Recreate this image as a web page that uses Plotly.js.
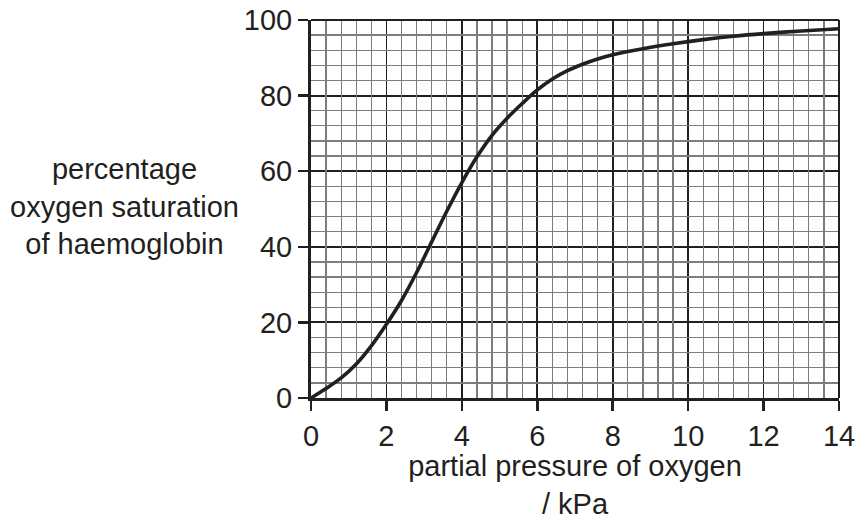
<!DOCTYPE html>
<html>
<head>
<meta charset="utf-8">
<script src="https://cdn.plot.ly/plotly-3.0.1.min.js"></script>
<style>
  html, body { margin: 0; padding: 0; background: #ffffff; }
  #chart { width: 857px; height: 520px; }
</style>
</head>
<body>
<div id="chart"></div>
<script>
// partial pressure of oxygen / kPa
const pressure = [0, 0.4, 0.8, 1.2, 1.6, 2.0, 2.4, 2.8, 3.2, 3.6, 4.0, 4.4, 4.8, 5.2, 5.6, 6.0, 6.4, 6.8, 7.2, 7.6, 8.0, 8.8, 9.6, 10.4, 11.2, 12.0, 13.0, 14.0];
// percentage oxygen saturation of haemoglobin
const saturation = [0, 2.5, 5.3, 9.0, 13.8, 19.5, 25.8, 33.2, 41.3, 49.4, 57.0, 63.8, 69.5, 74.0, 77.9, 81.5, 84.4, 86.6, 88.3, 89.7, 90.8, 92.4, 93.7, 94.8, 95.7, 96.4, 97.1, 97.7];

// axis settings (tick spacing in data units)
const xRange = [0, 14], yRange = [0, 100];
const xMajorStep = 2, xMinorDiv = 5;   // fine grid every 0.4 kPa
const yMajorStep = 20, yMinorDiv = 5;  // fine grid every 4 %

const ink = '#231f20';
const fineGrid = '#7d7d7d';
const fontFamily = '"Liberation Sans", Arial, Helvetica, sans-serif';
const fs = 29;

function fineVals(range, major, div) {
  const out = [];
  const n = Math.round((range[1] - range[0]) / major) * div;
  for (let i = 0; i <= n; i++) {
    if (i % div !== 0) out.push(+(range[0] + i * major / div).toFixed(6));
  }
  return out;
}

const curve = {
  x: pressure,
  y: saturation,
  type: 'scatter',
  mode: 'lines',
  line: { color: ink, width: 3.6, shape: 'spline', smoothing: 0.9 },
  hoverinfo: 'skip'
};
// empty trace that only carries the fine-grid overlay axes
const gridCarrier = { x: [], y: [], type: 'scatter', mode: 'lines', xaxis: 'x2', yaxis: 'y2', hoverinfo: 'skip' };

function majorAxis(range, major) {
  return {
    range: range,
    tickmode: 'linear',
    tick0: 0,
    dtick: major,
    ticks: 'outside',
    ticklen: 10,
    tickwidth: 2.5,
    tickcolor: ink,
    showline: true,
    linecolor: ink,
    linewidth: 3,
    zeroline: false,
    showgrid: true,
    gridcolor: ink,
    gridwidth: 1.8,
    tickfont: { family: fontFamily, size: fs, color: ink },
    fixedrange: true
  };
}
function fineAxis(range, major, div, over, anchor) {
  return {
    range: range,
    overlaying: over,
    anchor: anchor,
    tickmode: 'array',
    tickvals: fineVals(range, major, div),
    showticklabels: false,
    ticks: '',
    showline: false,
    zeroline: false,
    showgrid: true,
    gridcolor: fineGrid,
    gridwidth: 1.3,
    fixedrange: true
  };
}

const xaxis = majorAxis(xRange, xMajorStep);
xaxis.title = {
  text: 'partial pressure of oxygen<br>/ kPa',
  font: { family: fontFamily, size: fs, color: ink },
  standoff: 8
};
const yaxis = majorAxis(yRange, yMajorStep);

const layout = {
  width: 857,
  height: 520,
  margin: { l: 311, r: 18, t: 20, b: 122 },
  paper_bgcolor: '#ffffff',
  plot_bgcolor: '#ffffff',
  showlegend: false,
  font: { family: fontFamily, size: fs, color: ink },
  xaxis: xaxis,
  yaxis: yaxis,
  xaxis2: fineAxis(xRange, xMajorStep, xMinorDiv, 'x', 'y2'),
  yaxis2: fineAxis(yRange, yMajorStep, yMinorDiv, 'y', 'x2'),
  shapes: [
    { type: 'line', xref: 'paper', yref: 'paper', x0: 0, x1: 1, y0: 1, y1: 1, line: { color: ink, width: 2 } },
    { type: 'line', xref: 'paper', yref: 'paper', x0: 1, x1: 1, y0: 0, y1: 1, line: { color: ink, width: 2 } }
  ],
  annotations: [
    {
      text: 'percentage<br>oxygen saturation<br>of haemoglobin',
      xref: 'paper', yref: 'paper',
      x: -0.354, y: 0.507,
      xanchor: 'center', yanchor: 'middle',
      align: 'center',
      showarrow: false,
      font: { family: fontFamily, size: fs, color: ink }
    }
  ]
};

Plotly.newPlot('chart', [gridCarrier, curve], layout, { displayModeBar: false, staticPlot: true });
</script>
</body>
</html>
